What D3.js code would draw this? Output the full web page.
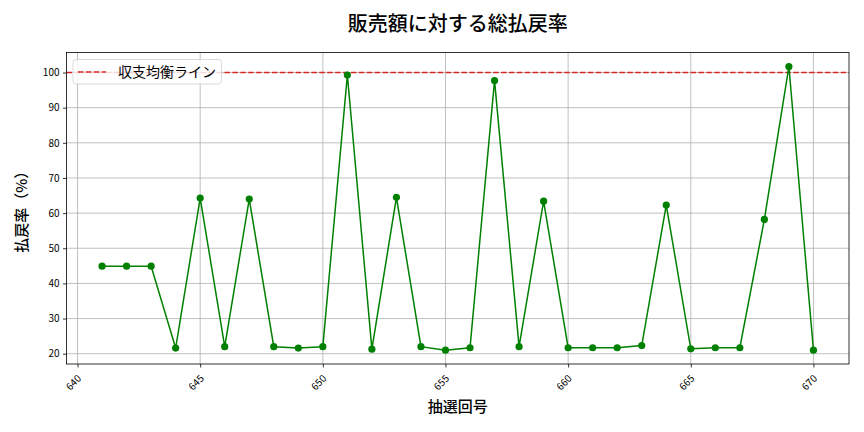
<!DOCTYPE html>
<html><head><meta charset="utf-8">
<script src="https://cdn.jsdelivr.net/npm/d3@7"></script>
<style>body{margin:0;background:#fff}svg{display:block}text{font-family:"Noto Sans CJK JP","Noto Sans",sans-serif}</style>
</head><body><svg id="c" width="864" height="432"></svg>
<script>
const draws = [641,642,643,644,645,646,647,648,649,650,651,652,653,654,655,656,657,658,659,660,661,662,663,664,665,666,667,668,669,670];
const payoutRate = [44.9,44.9,44.9,21.6,64.3,22.0,64.0,22.0,21.6,22.0,99.3,21.3,64.5,22.0,21.0,21.7,97.7,22.0,63.4,21.7,21.7,21.7,22.3,62.3,21.4,21.7,21.7,58.2,101.7,21.0];
const xTicks = [640,645,650,655,660,665,670];
const yTicks = [20,30,40,50,60,70,80,90,100];
const breakEven = 100;
const title = "販売額に対する総払戻率";
const xLabel = "抽選回号";
const yLabel = "払戻率（%）";
const legendLabel = "収支均衡ライン";

const svg = d3.select("#c");
const L = 66.5, R = 849, T = 52.5, B = 364;
const x = d3.scaleLinear().domain([639.55, 671.45]).range([L, R]);
const y = d3.scaleLinear().domain([17.07, 105.7]).range([B, T]);

// grid
const g = svg.append("g");
g.selectAll("line.vx").data(xTicks).join("line")
  .attr("x1", d => x(d)).attr("x2", d => x(d)).attr("y1", T).attr("y2", B)
  .attr("stroke", "#b0b0b0").attr("stroke-width", 0.8);
g.selectAll("line.hy").data(yTicks).join("line")
  .attr("y1", d => y(d)).attr("y2", d => y(d)).attr("x1", L).attr("x2", R)
  .attr("stroke", "#b0b0b0").attr("stroke-width", 0.8);

// break-even line
svg.append("line").attr("x1", L).attr("x2", R).attr("y1", y(breakEven)).attr("y2", y(breakEven))
  .attr("stroke", "#d62728").attr("stroke-width", 1.5).attr("stroke-dasharray", "5.5,2.4");

// data line
const line = d3.line().x((d, i) => x(draws[i])).y(d => y(d));
svg.append("path").datum(payoutRate).attr("d", line)
  .attr("fill", "none").attr("stroke", "#008000").attr("stroke-width", 1.5);
svg.selectAll("circle.pt").data(payoutRate).join("circle")
  .attr("cx", (d, i) => x(draws[i])).attr("cy", d => y(d)).attr("r", 3.6)
  .attr("fill", "#008000");

// axes
const xAxis = d3.axisBottom(x).tickValues(xTicks).tickSize(3.5).tickPadding(3.5).tickFormat(d3.format("d"));
const xg = svg.append("g").attr("transform", `translate(0,${B})`).call(xAxis);
xg.select(".domain").remove();
xg.selectAll(".tick line").attr("stroke", "#000").attr("stroke-width", 0.8);
xg.selectAll(".tick text").attr("font-size", 10).attr("fill", "#000")
  .attr("text-anchor", "middle").attr("dy", null).attr("y", null)
  .attr("transform", "translate(-2,21) rotate(-45)");

const yAxis = d3.axisLeft(y).tickValues(yTicks).tickSize(3.5).tickPadding(3.5);
const yg = svg.append("g").attr("transform", `translate(${L},0)`).call(yAxis);
yg.select(".domain").remove();
yg.selectAll(".tick line").attr("stroke", "#000").attr("stroke-width", 0.8);
yg.selectAll(".tick text").attr("font-size", 10).attr("fill", "#000");

// frame
svg.append("rect").attr("x", L).attr("y", T).attr("width", R - L).attr("height", B - T)
  .attr("fill", "none").attr("stroke", "#000").attr("stroke-width", 0.8);

// legend
const lg = svg.append("g");
lg.append("rect").attr("x", 73).attr("y", 59.5).attr("width", 148.5).attr("height", 24.5)
  .attr("rx", 3).attr("fill", "#fff").attr("fill-opacity", 0.8)
  .attr("stroke", "#d0d0d0").attr("stroke-width", 0.8);
lg.append("line").attr("x1", 78).attr("x2", 106).attr("y1", 72).attr("y2", 72)
  .attr("stroke", "#d62728").attr("stroke-width", 1.5).attr("stroke-dasharray", "5.5,2.4");
lg.append("text").attr("x", 118).attr("y", 72).attr("dy", "0.36em")
  .attr("font-size", 14).attr("fill", "#000").text(legendLabel);

// titles
svg.append("text").attr("x", (L + R) / 2).attr("y", 24).attr("dy", "0.36em")
  .attr("text-anchor", "middle").attr("font-size", 20).attr("font-weight", 500).attr("fill", "#000").text(title);
svg.append("text").attr("x", (L + R) / 2).attr("y", 407).attr("dy", "0.36em")
  .attr("text-anchor", "middle").attr("font-size", 15).attr("font-weight", 500).attr("fill", "#000").text(xLabel);
svg.append("text").attr("transform", `translate(22,${(T + B) / 2}) rotate(-90)`).attr("dy", "0.36em")
  .attr("text-anchor", "middle").attr("font-size", 15).attr("font-weight", 500).attr("fill", "#000").text(yLabel);
</script></body></html>
